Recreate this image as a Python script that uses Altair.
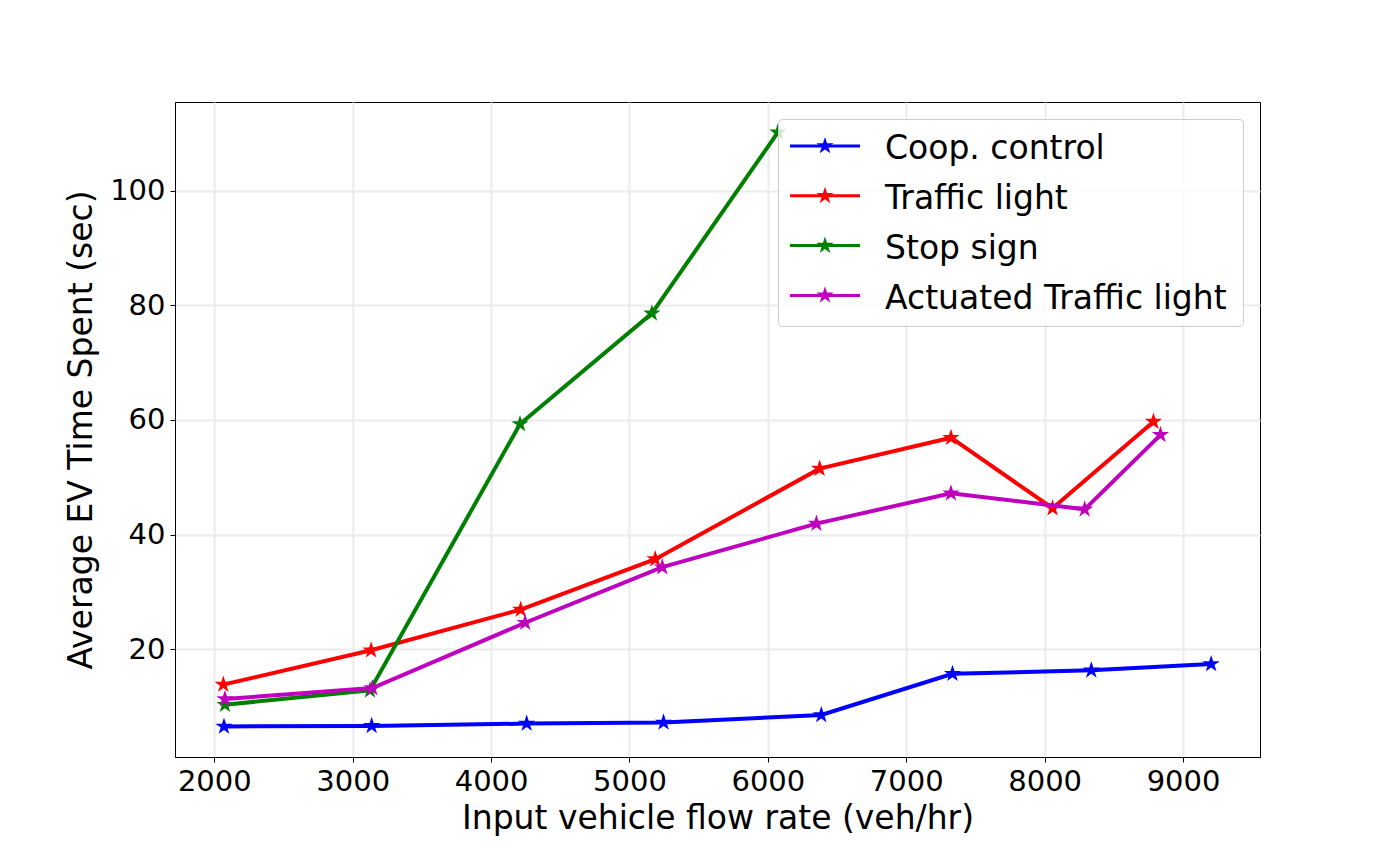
import altair as alt
import pandas as pd

series_names = ["Coop. control", "Traffic light", "Stop sign", "Actuated Traffic light"]
series_colors = ["#0000ff", "#ff0000", "#008000", "#bf00bf"]

coop_x = [2070, 3137, 4257, 5246, 6386, 7334, 8337, 9203]
coop_y = [6.5, 6.6, 7.0, 7.2, 8.5, 15.7, 16.3, 17.4]

tl_x = [2065, 3133, 4214, 5186, 6374, 7323, 8057, 8786]
tl_y = [13.8, 19.8, 26.9, 35.7, 51.5, 56.9, 44.6, 59.7]

ss_x = [2077, 3125, 4209, 5162, 6072]
ss_y = [10.3, 12.8, 59.3, 78.6, 110.2]

atl_x = [2077, 3142, 4246, 5237, 6351, 7323, 8289, 8837]
atl_y = [11.3, 13.2, 24.6, 34.3, 41.9, 47.2, 44.4, 57.4]

x_ticks = [2000, 3000, 4000, 5000, 6000, 7000, 8000, 9000]
y_ticks = [20, 40, 60, 80, 100]

all_x = [coop_x, tl_x, ss_x, atl_x]
all_y = [coop_y, tl_y, ss_y, atl_y]

FONT = "DejaVu Sans"
# five-pointed star as a custom symbol path (Vega has no built-in star)
STAR = ("M0,-1L0.2245,-0.309L0.9511,-0.309L0.3633,0.118L0.5878,0.809L0,0.382"
        "L-0.5878,0.809L-0.3633,0.118L-0.9511,-0.309L-0.2245,-0.309Z")

color_scale = alt.Scale(domain=series_names, range=series_colors)

x_enc = alt.X("x:Q", scale=alt.Scale(domain=[1716, 9556], nice=False, zero=False),
              axis=alt.Axis(values=x_ticks, title="Input vehicle flow rate (veh/hr)", format="d",
                            labelPadding=5, titlePadding=6))
y_enc = alt.Y("y:Q", scale=alt.Scale(domain=[1.17, 115.5], nice=False, zero=False),
              axis=alt.Axis(values=y_ticks, title="Average EV Time Spent (sec)", format="d",
                            labelPadding=5, titlePadding=11))

layers = []
for name, xs, ys in zip(series_names, all_x, all_y):
    df = pd.DataFrame({"x": xs, "y": ys, "series": name})
    base = alt.Chart(df).encode(
        x=x_enc, y=y_enc,
        color=alt.Color("series:N", scale=color_scale, legend=None),
    )
    layers.append(base.mark_line(strokeWidth=4))
    layers.append(base.mark_point(shape=STAR, filled=True, size=330, opacity=1, strokeWidth=0))

# ---- legend box in the upper right of the plot ----
leg_df = pd.DataFrame({"series": series_names, "row": list(range(len(series_names)))})
box = alt.Chart(pd.DataFrame({"k": [0]})).mark_rect(
    fill="white", fillOpacity=0.8, stroke="#cccccc", strokeWidth=1, cornerRadius=4
).encode(
    x=alt.value(603.5), x2=alt.value(1068.5), y=alt.value(17.5), y2=alt.value(224.5)
)
leg_base = alt.Chart(leg_df).transform_calculate(
    ly="44 + 49.8 * datum.row", ty="57.3 + 49.8 * datum.row"
)
leg_lines = leg_base.mark_rule(strokeWidth=3).encode(
    x=alt.value(615), x2=alt.value(685),
    y=alt.Y("ly:Q", scale=None),
    color=alt.Color("series:N", scale=color_scale, legend=None),
)
leg_stars = leg_base.mark_point(shape=STAR, filled=True, size=330, opacity=1, strokeWidth=0).encode(
    x=alt.value(650),
    y=alt.Y("ly:Q", scale=None),
    color=alt.Color("series:N", scale=color_scale, legend=None),
)
leg_text = leg_base.mark_text(
    align="left", baseline="alphabetic", font=FONT, fontSize=33, color="black"
).encode(
    x=alt.value(710),
    y=alt.Y("ty:Q", scale=None),
    text="series:N",
)

chart = alt.layer(*layers, box, leg_lines, leg_stars, leg_text).properties(
    width=1085,
    height=655,
    autosize=alt.AutoSizeParams(type="none"),
    padding={"left": 167, "top": 94, "right": 100, "bottom": 85},
    background="white",
).configure_view(
    stroke="black", strokeWidth=1
).configure_axis(
    labelFont=FONT, titleFont=FONT,
    labelFontSize=29, titleFontSize=33,
    labelColor="black", titleColor="black",
    titleFontWeight="normal",
    domainColor="black", domainWidth=1,
    tickColor="black", tickSize=5, tickWidth=1,
    gridColor="#ebebeb", gridWidth=2,
)

chart.save("out.html", embed_options={"renderer": "svg", "actions": False})
